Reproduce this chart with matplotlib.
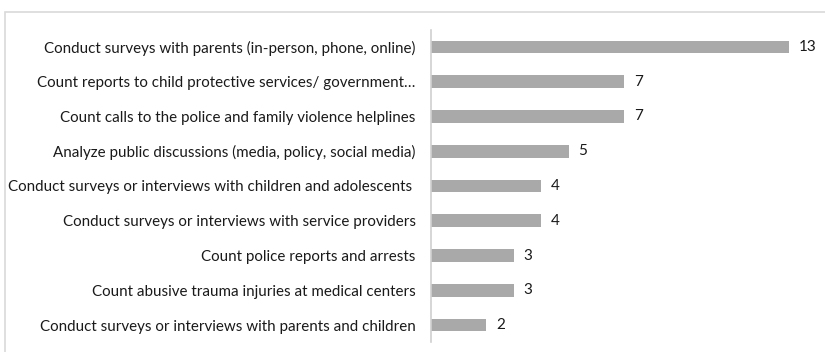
import matplotlib
matplotlib.use("Agg")
import matplotlib.pyplot as plt
from matplotlib.patches import Rectangle

categories = [
    "Conduct surveys with parents (in-person, phone, online)",
    "Count reports to child protective services/ government\u2026",
    "Count calls to the police and family violence helplines",
    "Analyze public discussions (media, policy, social media)",
    "Conduct surveys or interviews with children and adolescents ",
    "Conduct surveys or interviews with service providers",
    "Count police reports and arrests",
    "Count abusive trauma injuries at medical centers",
    "Conduct surveys or interviews with parents and children",
]
values = [13, 7, 7, 5, 4, 4, 3, 3, 2]

plt.rcParams['font.family'] = ['Lato', 'DejaVu Sans']

fig = plt.figure(figsize=(8.25, 3.52), dpi=100)
fig.patches.append(Rectangle((5/825, -0.2), 1.2, (352-12)/352 + 0.2,
                             transform=fig.transFigure, fill=False,
                             edgecolor='#d9d9d9', linewidth=1.2))
ax = fig.add_axes([431/825, (352-342.4)/352, 386/825, 312.8/352])

y = list(range(len(categories)))
ax.barh(y, values, height=0.36, color='#a9a9a9')
ax.set_ylim(len(categories) - 0.5, -0.5)
ax.set_xlim(0, 14)
ax.set_yticks(y)
ax.set_yticklabels(categories, fontsize=10.9, color='#1a1a1a')
ax.tick_params(axis='y', length=0, pad=11)
ax.set_xticks([])
for s in ['top', 'right', 'bottom']:
    ax.spines[s].set_visible(False)
ax.spines['left'].set_color('#d0d0d0')
ax.spines['left'].set_linewidth(1.2)

for yi, v in zip(y, values):
    ax.annotate(str(v), (v, yi), xytext=(7, 0), textcoords='offset points',
                va='center', ha='left', fontsize=11, color='#1a1a1a')

fig.savefig('out.png', dpi=100)
